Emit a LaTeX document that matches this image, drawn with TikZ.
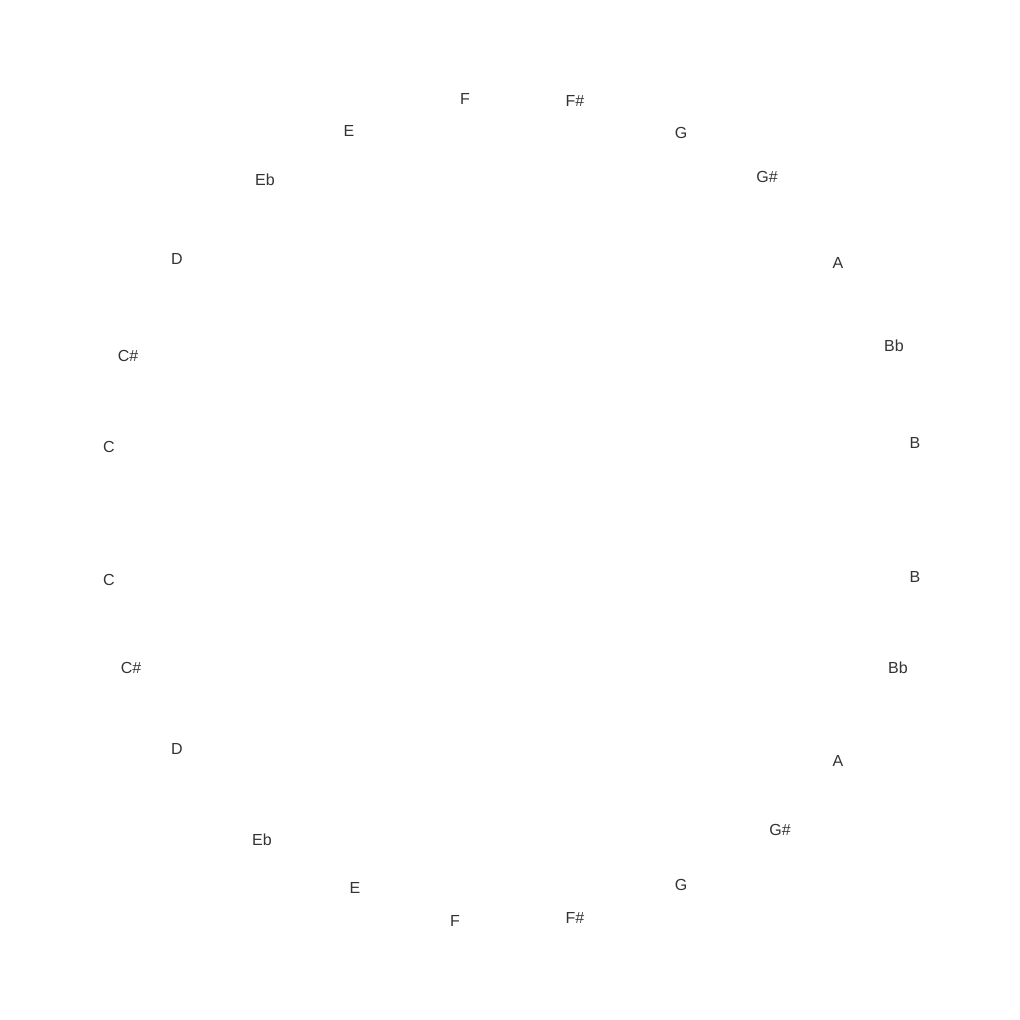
\documentclass[tikz,border=0pt]{standalone}
\usepackage{fontspec}
\setmainfont{Liberation Sans}
\usepackage{tikz}

\begin{document}
\begin{tikzpicture}[x=1pt,y=-1pt,
  note/.style={inner sep=0pt,text=black!80,font=\fontsize{16}{19}\selectfont}]
\useasboundingbox (0,0) rectangle (1020,1020);
% upper half
\foreach \nm/\px/\py/\lab in {uF/465/99/F, uFs/575/101/F\#, uG/681/133/G, uGs/767/177/G\#,
  uA/838/263/A, uBb/894/346/Bb, uB/915/443/B, uC/109/447/C, uCs/128/356/C\#,
  uD/177/259/D, uEb/265/180/Eb, uE/349/131/E}
  \node[note] (\nm) at (\px,\py) {\lab};
% lower half
\foreach \nm/\px/\py/\lab in {lB/915/577/B, lBb/898/668/Bb, lA/838/761/A, lGs/780/830/G\#,
  lG/681/885/G, lFs/575/918/F\#, lF/455/921/F, lE/355/888/E, lEb/262/840/Eb,
  lD/177/749/D, lCs/131/668/C\#, lC/109/580/C}
  \node[note] (\nm) at (\px,\py) {\lab};
\end{tikzpicture}
\end{document}
